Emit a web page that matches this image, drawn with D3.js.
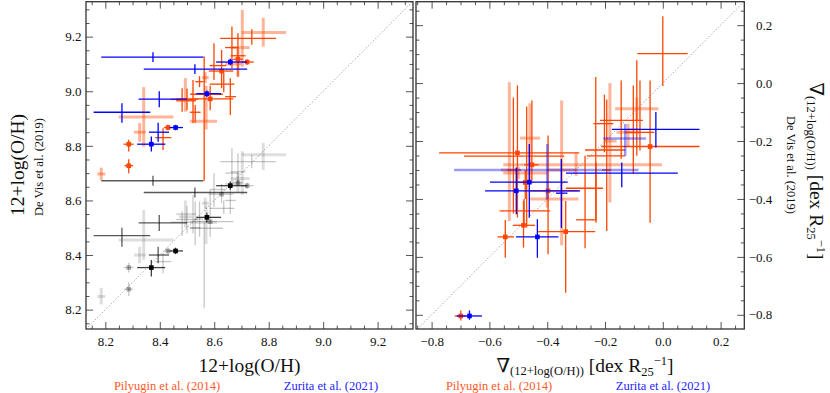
<!DOCTYPE html>
<html>
<head>
<meta charset="utf-8">
<script src="https://cdn.jsdelivr.net/npm/d3@7"></script>
<style>
  body { margin: 0; background: #fff; }
  svg, svg text { font-family: "Liberation Serif", "DejaVu Serif", serif; }
  svg { display: block; }
</style>
</head>
<body>
<svg id="chart" width="830" height="393" font-family="Liberation Serif, DejaVu Serif, serif"></svg>
<script>
// every row: [x, xLo, xHi, y, yLo, yHi]  (error bars given as absolute extents)

const ohTicks = [8.2, 8.4, 8.6, 8.8, 9.0, 9.2]
const gradTicks = [-0.8, -0.6, -0.4, -0.2, 0.0, 0.2]

// --- central metallicity: Pilyugin et al. (2014) vs De Vis et al. (2019)
const ohPilMarked = [
    [8.721, 8.700, 8.745, 9.107, 9.097, 9.117],
    [8.687, 8.670, 8.705, 9.117, 9.105, 9.130],
    [8.627, 8.580, 8.670, 9.074, 9.011, 9.151],
    [8.585, 8.520, 8.670, 8.972, 8.930, 9.020],
    [8.430, 8.415, 8.445, 8.867, 8.857, 8.877],
    [8.286, 8.267, 8.304, 8.806, 8.779, 8.822],
    [8.286, 8.270, 8.302, 8.727, 8.700, 8.751],
]
const ohPil = [
    [8.738, 8.622, 8.827, 9.194, 9.170, 9.227],
    [8.412, 8.383, 8.442, 8.830, 8.785, 8.864],
    [8.500, 8.460, 8.540, 8.971, 8.930, 9.010],
    [8.530, 8.510, 8.550, 8.923, 8.885, 8.950],
    [8.563, 8.512, 8.632, 8.989, 8.672, 9.127],
    [8.665, 8.640, 8.690, 9.160, 9.084, 9.237],
    [8.687, 8.660, 8.715, 9.130, 9.053, 9.212],
    [8.599, 8.583, 8.644, 9.094, 9.041, 9.176],
    [8.635, 8.583, 8.674, 9.026, 8.996, 9.070],
    [8.546, 8.530, 8.560, 9.035, 9.015, 9.055],
    [8.659, 8.640, 8.680, 8.980, 8.913, 9.048],
    [8.522, 8.460, 8.533, 8.965, 8.883, 9.041],
    [8.482, 8.440, 8.520, 8.970, 8.925, 9.011],
]
const ohPilFaint = [
    [8.780, 8.701, 8.864, 9.215, 9.163, 9.269],
    [8.703, 8.660, 8.730, 9.160, 9.090, 9.298],
    [8.341, 8.249, 8.450, 8.906, 8.797, 9.015],
    [8.326, 8.305, 8.348, 8.850, 8.815, 8.883],
    [8.185, 8.170, 8.200, 8.697, 8.675, 8.720],
    [8.570, 8.510, 8.610, 8.890, 8.860, 9.020],
    [8.494, 8.470, 8.520, 8.970, 8.925, 9.048],
    [8.687, 8.640, 8.700, 9.100, 9.053, 9.157],
    [8.567, 8.555, 8.580, 9.050, 9.030, 9.070],
]

// --- same galaxies, De Vis et al. (2019) own calibration (grey)
const ohDvPilMarked = [
    [8.721, 8.700, 8.745, 8.654, 8.642, 8.666],
    [8.687, 8.670, 8.705, 8.665, 8.653, 8.677],
    [8.627, 8.580, 8.670, 8.623, 8.590, 8.660],
    [8.585, 8.520, 8.670, 8.522, 8.467, 8.638],
    [8.430, 8.415, 8.445, 8.415, 8.403, 8.427],
    [8.286, 8.267, 8.304, 8.354, 8.336, 8.372],
    [8.286, 8.270, 8.302, 8.275, 8.250, 8.300],
]
const ohDvPil = [
    [8.738, 8.622, 8.827, 8.742, 8.718, 8.767],
    [8.412, 8.383, 8.442, 8.376, 8.333, 8.407],
    [8.500, 8.460, 8.540, 8.530, 8.480, 8.580],
    [8.530, 8.510, 8.550, 8.500, 8.437, 8.596],
    [8.563, 8.512, 8.632, 8.498, 8.205, 8.520],
    [8.665, 8.640, 8.690, 8.700, 8.651, 8.791],
    [8.687, 8.660, 8.715, 8.705, 8.663, 8.773],
    [8.599, 8.583, 8.644, 8.640, 8.577, 8.700],
    [8.635, 8.583, 8.674, 8.571, 8.550, 8.600],
    [8.546, 8.530, 8.560, 8.532, 8.467, 8.596],
    [8.659, 8.640, 8.680, 8.600, 8.550, 8.660],
    [8.522, 8.460, 8.533, 8.550, 8.480, 8.620],
    [8.482, 8.440, 8.520, 8.520, 8.470, 8.560],
]
const ohDvPilFaint = [
    [8.780, 8.701, 8.864, 8.767, 8.712, 8.811],
    [8.703, 8.660, 8.730, 8.680, 8.620, 8.780],
    [8.341, 8.249, 8.450, 8.455, 8.382, 8.565],
    [8.326, 8.305, 8.348, 8.400, 8.370, 8.430],
    [8.185, 8.170, 8.200, 8.248, 8.219, 8.280],
    [8.570, 8.510, 8.610, 8.520, 8.440, 8.580],
    [8.494, 8.470, 8.520, 8.540, 8.500, 8.600],
    [8.687, 8.640, 8.700, 8.660, 8.630, 8.700],
    [8.567, 8.555, 8.580, 8.590, 8.570, 8.610],
]

// --- central metallicity: Zurita et al. (2021) vs De Vis et al. (2019)
const ohZurMarked = [
    [8.659, 8.607, 8.721, 9.107, 9.095, 9.119],
    [8.573, 8.534, 8.625, 8.991, 8.979, 9.003],
    [8.458, 8.436, 8.485, 8.867, 8.857, 8.877],
    [8.369, 8.317, 8.420, 8.806, 8.779, 8.834],
]
const ohZur = [
    [8.375, 8.185, 8.560, 9.125, 9.107, 9.143],
    [8.529, 8.341, 8.721, 9.081, 9.063, 9.099],
    [8.394, 8.360, 8.434, 8.850, 8.815, 8.885],
    [8.398, 8.322, 8.500, 8.971, 8.941, 9.000],
    [8.261, 8.157, 8.365, 8.923, 8.885, 8.956],
]
// same galaxies, De Vis own calibration (black)
const ohDvZurMarked = [
    [8.659, 8.607, 8.721, 8.654, 8.639, 8.669],
    [8.573, 8.534, 8.625, 8.538, 8.519, 8.555],
    [8.458, 8.436, 8.485, 8.415, 8.403, 8.427],
    [8.369, 8.317, 8.420, 8.354, 8.321, 8.382],
]
const ohDvZur = [
    [8.375, 8.185, 8.560, 8.672, 8.654, 8.690],
    [8.529, 8.341, 8.721, 8.629, 8.611, 8.647],
    [8.394, 8.360, 8.434, 8.400, 8.370, 8.430],
    [8.398, 8.322, 8.500, 8.518, 8.488, 8.547],
    [8.261, 8.157, 8.365, 8.471, 8.430, 8.500],
]

// --- gradients
const gradPilMarked = [
    [-0.044, -0.213, 0.127, -0.219, -0.482, 0.009],
    [-0.503, -0.774, -0.289, -0.241, -0.464, -0.008],
    [-0.453, -0.480, -0.430, -0.282, -0.337, -0.060],
    [-0.476, -0.500, -0.450, -0.343, -0.400, -0.300],
    [-0.397, -0.459, -0.292, -0.372, -0.591, -0.181],
    [-0.545, -0.572, -0.515, -0.531, -0.603, -0.473],
    [-0.482, -0.519, -0.442, -0.491, -0.568, -0.407],
    [-0.336, -0.434, -0.234, -0.513, -0.724, -0.407],
    [-0.699, -0.720, -0.680, -0.804, -0.820, -0.785],
]
const gradPil = [
    [0.000, -0.088, 0.086, 0.102, -0.010, 0.231],
    [-0.090, -0.217, -0.069, -0.129, -0.251, 0.079],
    [-0.079, -0.130, -0.030, -0.170, -0.233, 0.009],
    [-0.102, -0.120, -0.080, -0.160, -0.314, -0.008],
    [-0.144, -0.263, -0.130, -0.251, -0.262, 0.009],
    [-0.202, -0.269, -0.130, -0.231, -0.239, -0.040],
    [-0.232, -0.240, -0.171, -0.140, -0.476, 0.021],
    [-0.194, -0.210, -0.180, -0.300, -0.511, -0.057],
    [-0.231, -0.336, -0.207, -0.363, -0.482, -0.274],
    [-0.269, -0.300, -0.235, -0.472, -0.570, -0.251],
    [-0.471, -0.688, -0.341, -0.252, -0.499, -0.081],
    [-0.480, -0.565, -0.390, -0.441, -0.490, -0.400],
    [-0.517, -0.540, -0.490, -0.300, -0.450, -0.050],
]
const gradPilFaint = [
    [-0.531, -0.560, -0.500, -0.300, -0.476, 0.003],
    [-0.350, -0.400, -0.300, -0.300, -0.560, -0.060],
    [-0.460, -0.494, -0.425, -0.190, -0.350, -0.070],
    [-0.300, -0.552, -0.003, -0.282, -0.320, -0.240],
    [-0.090, -0.165, -0.015, -0.089, -0.130, -0.050],
    [-0.183, -0.200, -0.160, -0.200, -0.412, 0.000],
    [-0.120, -0.160, -0.080, -0.170, -0.220, -0.140],
    [-0.400, -0.459, -0.292, -0.400, -0.430, -0.370],
    [-0.500, -0.552, -0.400, -0.310, -0.330, -0.290],
]
const gradZurMarked = [
    [-0.462, -0.598, -0.329, -0.342, -0.464, -0.210],
    [-0.507, -0.615, -0.286, -0.372, -0.453, -0.291],
    [-0.434, -0.508, -0.361, -0.531, -0.603, -0.470],
    [-0.669, -0.713, -0.626, -0.804, -0.817, -0.785],
]
const gradZur = [
    [-0.142, -0.335, 0.052, -0.311, -0.360, -0.274],
    [-0.024, -0.176, 0.127, -0.160, -0.222, -0.100],
    [-0.351, -0.370, -0.330, -0.380, -0.500, -0.262],
]
const gradZurFaint = [
    [-0.400, -0.722, -0.084, -0.300, -0.401, -0.210],
    [-0.130, -0.206, -0.058, -0.191, -0.251, -0.141],
]

const svg = d3.select("#chart")
const FONT = "Liberation Serif, DejaVu Serif, serif"

const ORANGE = "#ff4500", BLUE = "#0000ff"
const styles = {
    pil: { color: ORANGE, width: 1.3, opacity: 1 },
    pilFaint: { color: ORANGE, width: 3, opacity: 0.4 },
    zur: { color: BLUE, width: 1.3, opacity: 1 },
    zurFaint: { color: BLUE, width: 2.5, opacity: 0.4 },
    dvZur: { color: "#000", width: 1.3, opacity: 0.65 },
    dvPil: { color: "#000", width: 1.3, opacity: 0.22 },
    dvPilFaint: { color: "#000", width: 3, opacity: 0.13 },
}

function minorTicks(lo, hi, majors) {
    const out = []
    for (let v = Math.ceil(lo / 0.05) * 0.05; v <= hi + 1e-9; v += 0.05) {
        const r = Math.round(v * 100) / 100
        if (!majors.some(m => Math.abs(m - r) < 1e-6)) out.push(r)
    }
    return out
}

function panel(p) {
    const g = svg.append("g")
    const sx = d3.scaleLinear().domain(p.domX).range([p.x0, p.x1])
    const sy = d3.scaleLinear().domain(p.domY).range([p.y1, p.y0])
    const fmt = d3.format(".1f")
    const minors = minorTicks(p.domX[0], p.domX[1], p.ticks)
    const minorsY = minorTicks(p.domY[0], p.domY[1], p.ticks)

    // 1:1 line
    const lo = Math.max(p.domX[0], p.domY[0]), hi = Math.min(p.domX[1], p.domY[1])
    g.append("line")
        .attr("x1", sx(lo)).attr("y1", sy(lo))
        .attr("x2", sx(hi)).attr("y2", sy(hi))
        .attr("stroke", "#9a9a9a").attr("stroke-width", 1)
        .attr("stroke-dasharray", "1.2,2")

    const axes = [
        { a: d3.axisBottom(sx), t: `translate(0,${p.y1})`, v: p.ticks, m: minors, lab: true },
        { a: d3.axisTop(sx), t: `translate(0,${p.y0})`, v: p.ticks, m: minors, lab: false },
        { a: d3.axisLeft(sy), t: `translate(${p.x0},0)`, v: p.ticks, m: minorsY, lab: p.yLabels === "left" },
        { a: d3.axisRight(sy), t: `translate(${p.x1},0)`, v: p.ticks, m: minorsY, lab: p.yLabels === "right" },
    ]
    axes.forEach(ax => {
        const major = g.append("g").attr("transform", ax.t)
            .call(ax.a.tickValues(ax.v).tickSize(-7).tickSizeOuter(0)
                .tickPadding(ax.lab ? p.pad : 0)
                .tickFormat(ax.lab ? fmt : ""))
        major.select(".domain").remove()
        major.attr("font-family", FONT).attr("font-size", 13)
        major.selectAll("line").attr("stroke", "#555")
        major.selectAll("text").attr("fill", "#111")
        const minor = g.append("g").attr("transform", ax.t)
            .call(ax.a.tickValues(ax.m).tickSize(-3.5).tickFormat(""))
        minor.select(".domain").remove()
        minor.selectAll("line").attr("stroke", "#555")
        ax.major = major
    })
    if (p.yLabels === "right") {
        axes[3].major.selectAll("text").attr("text-anchor", "end").attr("x", 28)
    } else {
        axes[2].major.selectAll("text").attr("x", -4.5)
    }
    axes[0].major.selectAll("text").attr("y", 7.5)

    g.append("rect")
        .attr("x", p.x0).attr("y", p.y0)
        .attr("width", p.x1 - p.x0).attr("height", p.y1 - p.y0)
        .attr("fill", "none").attr("stroke", "#333").attr("stroke-width", 1.3)

    return { g, sx, sy }
}

function errorBars(pn, rows, s, marker) {
    const grp = pn.g.append("g")
        .attr("stroke", s.color).attr("stroke-opacity", s.opacity)
        .attr("stroke-width", s.width)
    grp.selectAll("line.h").data(rows).enter().append("line").attr("class", "h")
        .attr("x1", d => pn.sx(d[1])).attr("x2", d => pn.sx(d[2]))
        .attr("y1", d => pn.sy(d[3])).attr("y2", d => pn.sy(d[3]))
    grp.selectAll("line.v").data(rows).enter().append("line").attr("class", "v")
        .attr("x1", d => pn.sx(d[0])).attr("x2", d => pn.sx(d[0]))
        .attr("y1", d => pn.sy(d[4])).attr("y2", d => pn.sy(d[5]))
    if (marker) {
        const ms = 4.6
        pn.g.append("g").attr("fill", s.color).attr("fill-opacity", Math.min(1, s.opacity * 1.4))
            .selectAll("rect").data(rows).enter().append("rect")
            .attr("x", d => pn.sx(d[0]) - ms / 2).attr("y", d => pn.sy(d[3]) - ms / 2)
            .attr("width", ms).attr("height", ms)
    }
}

// ---- left panel: central 12+log(O/H)
const pL = panel({
    x0: 86, x1: 413, y0: 1.7, y1: 329,
    domX: [8.129, 9.33], domY: [8.129, 9.328],
    ticks: ohTicks, yLabels: "left", pad: 4.5,
})
errorBars(pL, ohDvPilFaint, styles.dvPilFaint, false)
errorBars(pL, ohDvPil, styles.dvPil, false)
errorBars(pL, ohDvPilMarked, styles.dvPil, true)
errorBars(pL, ohDvZur, styles.dvZur, false)
errorBars(pL, ohDvZurMarked, { color: "#000", width: 1.3, opacity: 0.75 }, true)
errorBars(pL, ohPilFaint, styles.pilFaint, false)
errorBars(pL, ohPil, styles.pil, false)
errorBars(pL, ohPilMarked, styles.pil, true)
errorBars(pL, ohZur, styles.zur, false)
errorBars(pL, ohZurMarked, styles.zur, true)

// ---- right panel: gradients
const pR = panel({
    x0: 416, x1: 744.3, y0: 1.7, y1: 329,
    domX: [-0.854, 0.282], domY: [-0.849, 0.281],
    ticks: gradTicks, yLabels: "right", pad: 4.5,
})
errorBars(pR, gradPilFaint, styles.pilFaint, false)
errorBars(pR, gradPil, styles.pil, false)
errorBars(pR, gradPilMarked, styles.pil, true)
errorBars(pR, gradZurFaint, styles.zurFaint, false)
errorBars(pR, gradZur, styles.zur, false)
errorBars(pR, gradZurMarked, styles.zur, true)

// ---- titles
const big = 19.5, small = 12.5

function label(sel) {
    return sel.attr("font-family", FONT).attr("fill", "#111").attr("text-anchor", "middle")
}

label(svg.append("text")).attr("x", 249.5).attr("y", 372)
    .attr("font-size", big).text("12+log(O/H)")
label(svg.append("text")).attr("transform", "translate(24,165) rotate(-90)")
    .attr("font-size", big).text("12+log(O/H)")
label(svg.append("text")).attr("transform", "translate(43,167) rotate(-90)")
    .attr("font-size", small).text("De Vis et al. (2019)")

function gradTitle(t) {
    label(t).attr("font-size", big)
    t.append("tspan").text("\u2207")
    t.append("tspan").attr("font-size", small).attr("dy", 3).text("(12+log(O/H))")
    t.append("tspan").attr("dy", -3).text(" [dex R")
    t.append("tspan").attr("font-size", small).attr("dy", 3.5).text("25")
    t.append("tspan").attr("font-size", small).attr("dy", -10.5).text("\u22121")
    t.append("tspan").attr("dy", 7).text("]")
}
gradTitle(svg.append("text").attr("x", 585).attr("y", 372))
gradTitle(svg.append("text").attr("transform", "translate(810,171) rotate(90)"))
label(svg.append("text")).attr("transform", "translate(787,165) rotate(90)")
    .attr("font-size", small).text("De Vis et al. (2019)")

// ---- source labels under each panel
const sources = [
    { x: 167, label: "Pilyugin et al. (2014)", color: "#ff5a28" },
    { x: 331, label: "Zurita et al. (2021)", color: "#2424ff" },
    { x: 499, label: "Pilyugin et al. (2014)", color: "#ff5a28" },
    { x: 663, label: "Zurita et al. (2021)", color: "#2424ff" },
]
label(svg.selectAll("text.src").data(sources).enter().append("text").attr("class", "src"))
    .attr("x", d => d.x).attr("y", 390).attr("font-size", small)
    .attr("fill", d => d.color).text(d => d.label)
</script>
</body>
</html>
